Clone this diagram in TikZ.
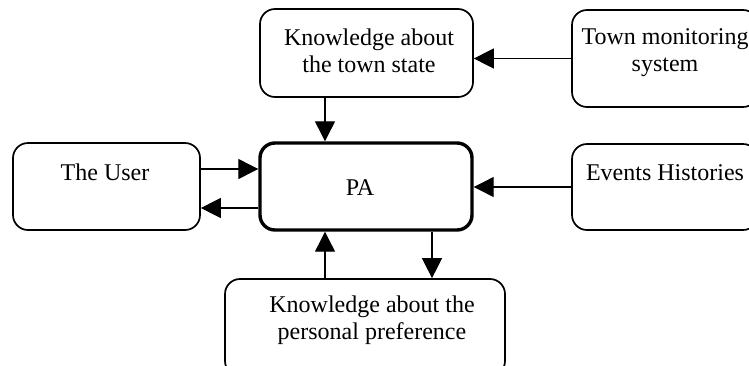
\documentclass[tikz,border=0pt]{standalone}
\usepackage{fontspec}
\setmainfont{Liberation Serif}
\usetikzlibrary{arrows.meta}
\begin{document}
\begin{tikzpicture}[x=0.5pt,y=-0.5pt,
  box/.style={draw, rounded corners=7.5pt, line width=0.85pt, inner sep=0pt},
  pabox/.style={draw, rounded corners=7.5pt, line width=1.7pt, inner sep=0pt},
  lbl/.style={align=center, font=\fontsize{12}{13.5}\selectfont, inner sep=0pt},
  arr/.style={line width=0.6pt, -{Triangle[length=10pt,width=10pt]}}]
\clip (0,0) rectangle (749,365);
\fill[white] (0,0) rectangle (749,365);
% boxes
\node[box, minimum width=106.5pt, minimum height=44pt] (K1) at (366.5,53) {};
\node[box, minimum width=93pt, minimum height=48.5pt] (TMS) at (665,58.5) {};
\node[box, minimum width=93.5pt, minimum height=43.5pt] (User) at (106.5,186.5) {};
\node[pabox, minimum width=106pt, minimum height=43.5pt] (PA) at (366,186.5) {};
\node[box, minimum width=93pt, minimum height=43pt] (Ev) at (665,187) {};
\node[box, minimum width=140pt, minimum height=48.5pt] (Pref) at (365,327.5) {};
% labels
\node[lbl] (K1t) at (369,51) {Knowledge about\\the town state};
\node[lbl] (TMSt) at (665,53) {Town monitoring\\system};
\node[lbl] (Usert) at (105,172) {The User};
\node[lbl] (PAt) at (360,188) {PA};
\node[lbl] (Evt) at (665,173) {Events Histories};
\node[lbl] (Preft) at (372,320) {Knowledge about the\\personal preference};
% connectors
\draw[arr] (TMS.west) -- (TMS.west -| K1.east);
\draw[arr] (K1.south -| 325,0) -- (PA.north -| 325,0);
\draw[arr] (User.east |- 0,169) -- (PA.west |- 0,169);
\draw[arr] (PA.west |- 0,208) -- (User.east |- 0,208);
\draw[arr] (Ev.west) -- (Ev.west -| PA.east);
\draw[arr] (Pref.north -| 325,0) -- (PA.south -| 325,0);
\draw[arr] (PA.south -| 432,0) -- (Pref.north -| 432,0);
\end{tikzpicture}
\end{document}
